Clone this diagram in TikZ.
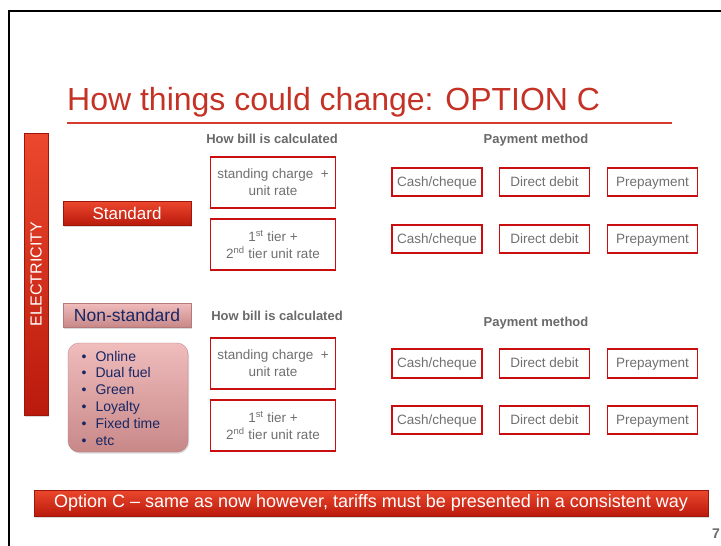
\documentclass[tikz,border=0pt]{standalone}
\usepackage{fontspec}
\setmainfont{Liberation Sans}
\usetikzlibrary{shadows}
\definecolor{titlered}{RGB}{196,50,38}
\definecolor{linered}{RGB}{214,58,44}
\definecolor{boxred}{RGB}{200,14,14}
\definecolor{txtgray}{RGB}{112,112,112}
\definecolor{hdrgray}{RGB}{105,105,105}
\definecolor{navy}{RGB}{22,38,100}
\definecolor{redtop}{RGB}{236,72,46}
\definecolor{redbot}{RGB}{186,26,12}
\definecolor{pinktop}{RGB}{240,188,188}
\definecolor{pinkbot}{RGB}{200,136,136}
\begin{document}
\begin{tikzpicture}[x=1pt,y=-1pt,
  redbar/.style={shade, top color=redtop, bottom color=redbot, draw=redbot!85!black, line width=0.3pt,
    drop shadow={shadow xshift=1pt, shadow yshift=-1.5pt, opacity=0.3}, inner sep=0pt},
  pinkbar/.style={shade, top color=pinktop, bottom color=pinkbot, draw=pinkbot!90!black, line width=0.3pt,
    drop shadow={shadow xshift=1pt, shadow yshift=-1.5pt, opacity=0.3}, inner sep=0pt},
  calcbox/.style={draw=boxred, line width=1.6pt, fill=white, minimum width=125pt, minimum height=51pt,
    inner sep=0pt, text=txtgray, align=center, font=\fontsize{13.5}{17}\selectfont},
  paybox/.style={draw=boxred, line width=1.6pt, fill=white, minimum width=90pt, minimum height=28.5pt,
    inner sep=0pt, text height=10.5pt, text depth=2.5pt, text=txtgray, font=\fontsize{13.5}{16}\selectfont},
  hdr/.style={text=hdrgray, font=\fontsize{13}{15}\selectfont\bfseries, inner sep=0pt},
]
\useasboundingbox (0,0) rectangle (721,546);
% slide frame
\draw[line width=2pt] (8.5,546) -- (8.5,11) -- (721,11);
% title
\node[anchor=base west, inner sep=0pt, text=titlered, font=\fontsize{32}{32}\selectfont] (title) at (67,110) {How things could change: OPTION C};
\coordinate (ulA) at (67,123);
\coordinate (ulB) at (672,123);
\draw[linered, line width=1.1pt] (ulA) -- (ulB);
% electricity bar
\node[redbar, minimum width=24pt, minimum height=282pt] (elec) at (36,274) {};
\node[rotate=90, text=white, inner sep=0pt, font=\fontsize{16}{16}\selectfont] (electext) at (elec.center) {ELECTRICITY};
% standard / non-standard
\node[redbar, minimum width=128pt, minimum height=24pt, text=white, font=\fontsize{17}{17}\selectfont] (std) at (127,213) {Standard};
\node[pinkbar, minimum width=128pt, minimum height=24pt, text=navy, font=\fontsize{17.5}{17.5}\selectfont] (nonstd) at (127,315) {Non-standard};
\node[pinkbar, rounded corners=11pt, minimum width=120pt, minimum height=109pt] (bulletbox) at (128,397.5) {};
\node[anchor=west, inner sep=0pt, text=navy, align=left, font=\fontsize{14}{16.8}\selectfont] (bullets) at (81.5,398)
  {•\hspace{9pt}Online\\ •\hspace{9pt}Dual fuel\\ •\hspace{9pt}Green\\ •\hspace{9pt}Loyalty\\ •\hspace{9pt}Fixed time\\ •\hspace{9pt}etc};
% headers
\node[hdr] (hdrA) at (272,139) {How bill is calculated};
\node[hdr] (hdrB) at (536,140) {Payment method};
\node[hdr] (hdrC) at (277,316) {How bill is calculated};
\node[hdr] (hdrD) at (536,323) {Payment method};
% calculation boxes
\node[calcbox] (calc1) at (273,182.5) {standing charge\ \ +\\unit rate};
\node[calcbox] (calc2) at (273,244.5) {1\textsuperscript{st} tier +\\2\textsuperscript{nd} tier unit rate};
\node[calcbox] (calc3) at (273,363.5) {standing charge\ \ +\\unit rate};
\node[calcbox] (calc4) at (273,425.5) {1\textsuperscript{st} tier +\\2\textsuperscript{nd} tier unit rate};
% payment boxes
\foreach \r/\y in {1/182,2/239,3/363.5,4/420}{
  \node[paybox] (cash\r) at (437,\y) {Cash/cheque};
  \node[paybox] (dd\r) at (544.5,\y) {Direct debit};
  \node[paybox] (pre\r) at (652.5,\y) {Prepayment};
}
% banner
\node[redbar, minimum width=674pt, minimum height=26pt, text=white, font=\fontsize{18}{18}\selectfont] (banner) at (371,503) {Option C – same as now however, tariffs must be presented in a consistent way};
% page number
\node[text=hdrgray, inner sep=0pt, font=\fontsize{14}{14}\selectfont\bfseries] (pagenum) at (716,534) {7};
\end{tikzpicture}
\end{document}
